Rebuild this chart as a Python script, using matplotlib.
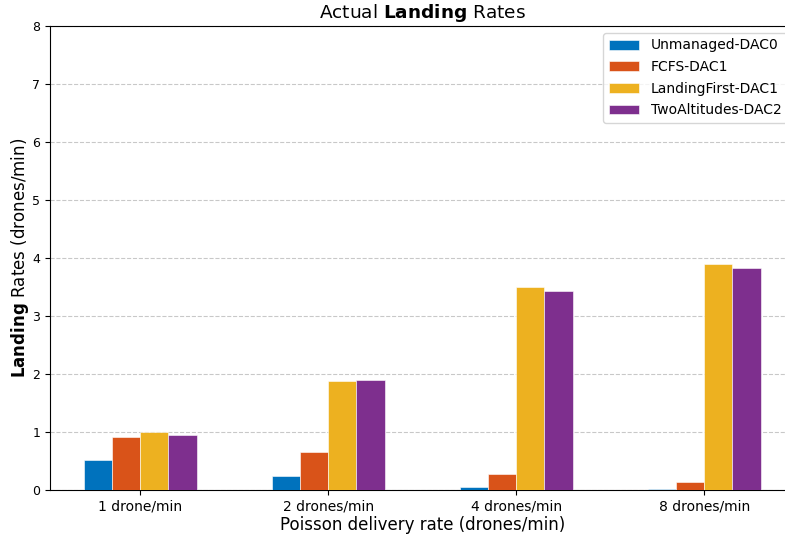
import numpy as np
import matplotlib
matplotlib.use("Agg")
import matplotlib.pyplot as plt

# arrival-rate groups and policy names
rates = ["1 drone/min", "2 drones/min", "4 drones/min", "8 drones/min"]
policies = ["Unmanaged-DAC0", "FCFS-DAC1", "LandingFirst-DAC1", "TwoAltitudes-DAC2"]

# measured landing rates (drones/min) per policy
unmanaged = [0.52, 0.24, 0.05, 0.02]
fcfs = [0.91, 0.66, 0.27, 0.13]
landing_first = [1.00, 1.88, 3.50, 3.89]
two_altitudes = [0.95, 1.90, 3.43, 3.82]

colors = ["#0072BD", "#D95319", "#EDB120", "#7E2F8E"]

fig = plt.figure(figsize=(7.85, 5.35), dpi=100)
ax = fig.add_axes([50 / 785, 45 / 535, 744.5 / 785, 464 / 535])

x = np.arange(len(rates))
width = 0.15
series = [unmanaged, fcfs, landing_first, two_altitudes]
for i, (vals, name, c) in enumerate(zip(series, policies, colors)):
    ax.bar(x + (i - 1.5) * width, vals, width, label=name, color=c,
           edgecolor="white", linewidth=0.4, zorder=3)

ax.set_ylim(0, 8)
ax.set_xticks(x)
ax.set_xticklabels(rates, fontsize=10)
ax.tick_params(axis="y", labelsize=9)
ax.grid(axis="y", linestyle="--", color="#bbbbbb", alpha=0.8, zorder=0)

ax.set_title(r"Actual $\bf{Landing}$ Rates", fontsize=13.3)
ax.set_xlabel("Poisson delivery rate (drones/min)", fontsize=12, labelpad=2)
ax.set_ylabel(r"$\bf{Landing}$ Rates (drones/min)", fontsize=12)
ax.yaxis.set_label_coords(-0.025, 0.5)

ax.legend(loc="upper right", fontsize=10, bbox_to_anchor=(0.999, 1.0),
          labelspacing=0.55, handlelength=2.2)

fig.savefig("out.png", dpi=100)
